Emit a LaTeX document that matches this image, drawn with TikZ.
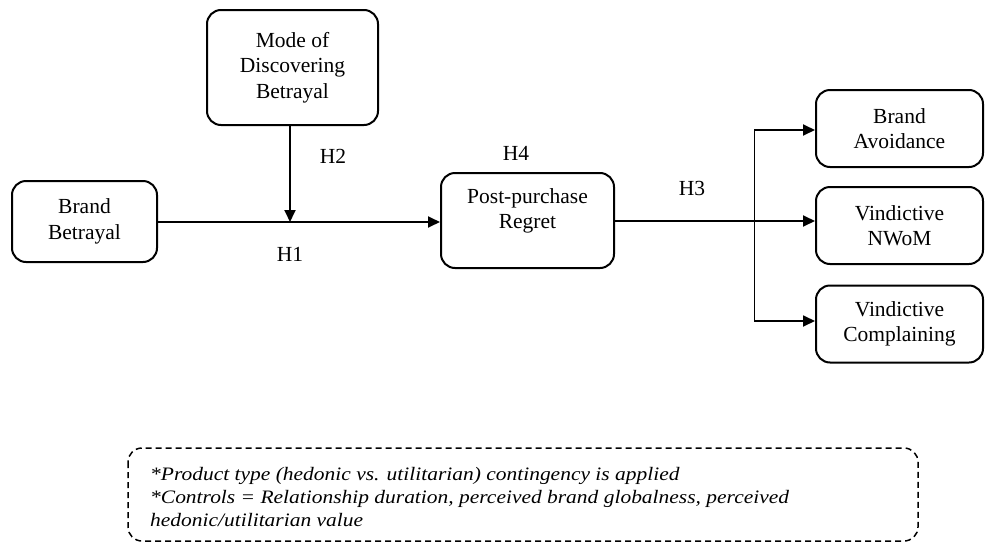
\documentclass[tikz,border=0pt]{standalone}
\usepackage{fontspec}
\setmainfont{Liberation Serif}
\usetikzlibrary{arrows.meta}
\newcommand{\wide}[1]{\scalebox{1.13}[1]{#1}}
\begin{document}
\begin{tikzpicture}[x=1pt,y=-1pt,
  box/.style={draw,line width=2pt,rounded corners=14pt,align=center,font=\fontsize{21.5}{25.5}\selectfont,inner sep=0pt},
  txt/.style={align=center,font=\fontsize{21.5}{25.5}\selectfont,inner sep=0pt},
  lab/.style={font=\fontsize{21.5}{25}\selectfont},
  arr/.style={line width=1.8pt,-{Triangle[length=12pt,width=11pt]}},
  note/.style={font=\fontsize{19}{23}\selectfont\itshape,align=left,anchor=base west,inner sep=0pt}]
\useasboundingbox (0,0) rectangle (985,549);
\node[box,minimum width=145pt,minimum height=81pt] (bb) at (84.5,221.5) {Brand\\Betrayal};
\node[box,minimum width=171pt,minimum height=115pt] (md) at (292.5,67.5) {Mode of\\Discovering\\Betrayal};
\node[box,minimum width=173pt,minimum height=95pt] (pr) at (527.5,220.5) {};
\node[txt] (prt) at (527.5,211) {Post-purchase\\Regret};
\node[box,minimum width=167pt,minimum height=77pt] (ba) at (899.5,128.5) {Brand\\Avoidance};
\node[box,minimum width=167pt,minimum height=77pt] (nw) at (899.5,225.5) {Vindictive\\NWoM};
\node[box,minimum width=167pt,minimum height=77pt] (vc) at (899.5,324) {Vindictive\\Complaining};
\coordinate (j) at (290,222);
\draw[arr] (bb.east |- j) -- (pr.west |- j);
\draw[arr] (md.south -| j) -- (j);
\draw[arr] (pr.east |- 0,221) -- (nw.west |- 0,221);
\coordinate (vt) at (754,130);
\coordinate (vb) at (754,321);
\draw[line width=1pt] (vt) -- (vb);
\draw[arr] (vt) -- (ba.west |- vt);
\draw[arr] (vb) -- (vc.west |- vb);
\node[lab] (h1) at (290,254) {H1};
\node[lab] (h2) at (333,156) {H2};
\node[lab] (h4) at (516,153) {H4};
\node[lab] (h3) at (692,188) {H3};
\draw[line width=1.5pt,dash pattern=on 6pt off 4pt,rounded corners=14pt] (128,448) rectangle (918,541);
\node[note] (n1) at (150,480) {\wide{*Product type (hedonic vs. utilitarian) contingency is applied}};
\node[note] (n2) at (150,503) {\wide{*Controls = Relationship duration, perceived brand globalness, perceived}};
\node[note] (n3) at (150,526) {\wide{hedonic/utilitarian value}};
\end{tikzpicture}
\end{document}
